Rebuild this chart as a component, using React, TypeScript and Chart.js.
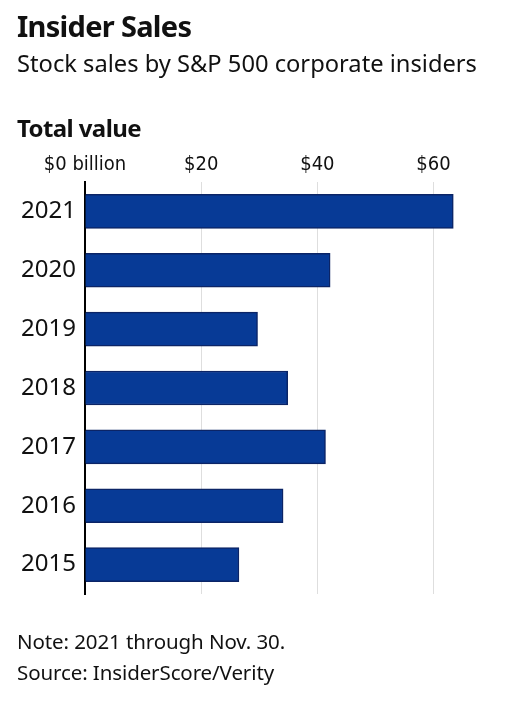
import React, { useEffect, useRef } from "react";
import { Chart, registerables } from "chart.js";

Chart.register(...registerables);

const years = ["2021", "2020", "2019", "2018", "2017", "2016", "2015"];
const salesBillions = [63.4, 42.2, 29.7, 34.9, 41.4, 34.1, 26.5];
const tickValues = [0, 20, 40, 60];
const tickLabels = ["$0 billion", "$20", "$40", "$60"];

const TEXT_FONT = "'Noto Sans', 'Open Sans', sans-serif";
const NARROW_FONT = "'Liberation Sans Narrow', 'DejaVu Sans Condensed', 'Roboto Condensed', Roboto, sans-serif";

export default function App() {
  const canvasRef = useRef<HTMLCanvasElement | null>(null);

  useEffect(() => {
    if (!canvasRef.current) return;
    const chart = new Chart(canvasRef.current, {
      type: "bar",
      data: {
        labels: years,
        datasets: [
          {
            data: salesBillions,
            backgroundColor: "#073a96",
            borderColor: "#0b2466",
            borderWidth: 1.5,
            borderSkipped: "left",
            barThickness: 34,
          },
        ],
      },
      options: {
        indexAxis: "y",
        animation: false,
        responsive: false,
        maintainAspectRatio: false,
        layout: { padding: { top: 142, left: 0, right: 40, bottom: 108 } },
        plugins: { legend: { display: false }, tooltip: { enabled: false } },
        scales: {
          x: {
            position: "top",
            min: 0,
            max: 68,
            afterBuildTicks: (axis: any) => {
              axis.ticks = tickValues.map((v) => ({ value: v }));
            },
            afterFit: (scale: any) => {
              scale.height = 40;
            },
            border: { display: false },
            grid: {
              drawTicks: false,
              color: (ctx: any) => (ctx.tick && ctx.tick.value === 0 ? "rgba(0,0,0,0)" : "#dedede"),
              lineWidth: 1,
            },
            ticks: {
              padding: 5,
              color: "#111",
              font: { family: NARROW_FONT, size: 20 },
              callback: (value: any) => {
                const i = tickValues.indexOf(Number(value));
                return i >= 0 ? tickLabels[i] : "";
              },
            },
          },
          y: {
            afterFit: (scale: any) => {
              scale.width = 85;
            },
            border: { display: true, color: "#000", width: 2 },
            grid: { display: false, drawTicks: false },
            ticks: {
              padding: 9,
              color: "#111",
              font: { family: TEXT_FONT, size: 24 },
            },
          },
        },
      },
    });
    return () => chart.destroy();
  }, []);

  return (
    <div style={{ position: "fixed", left: 0, top: 0, width: 520, height: 702, background: "#fff", overflow: "hidden" }}>
      <canvas ref={canvasRef} width={520} height={702} style={{ position: "absolute", left: 0, top: 0, width: 520, height: 702 }} />
      <div style={{ position: "absolute", left: 17, top: 8, fontFamily: TEXT_FONT, fontWeight: 700, fontSize: 29, letterSpacing: -0.7, color: "#111", whiteSpace: "nowrap", lineHeight: "36px" }}>
        Insider Sales
      </div>
      <div style={{ position: "absolute", left: 17, top: 47, fontFamily: TEXT_FONT, fontWeight: 400, fontSize: 23.7, color: "#111", whiteSpace: "nowrap", lineHeight: "32px" }}>
        Stock sales by S&amp;P 500 corporate insiders
      </div>
      <div style={{ position: "absolute", left: 17, top: 112, fontFamily: TEXT_FONT, fontWeight: 700, fontSize: 24, letterSpacing: -0.6, color: "#111", whiteSpace: "nowrap", lineHeight: "32px" }}>
        Total value
      </div>
      <div style={{ position: "absolute", left: 17, top: 626, fontFamily: TEXT_FONT, fontWeight: 400, fontSize: 20.5, letterSpacing: -0.1, color: "#111", whiteSpace: "nowrap", lineHeight: "31px" }}>
        Note: 2021 through Nov. 30.
        <br />
        Source: InsiderScore/Verity
      </div>
    </div>
  );
}
